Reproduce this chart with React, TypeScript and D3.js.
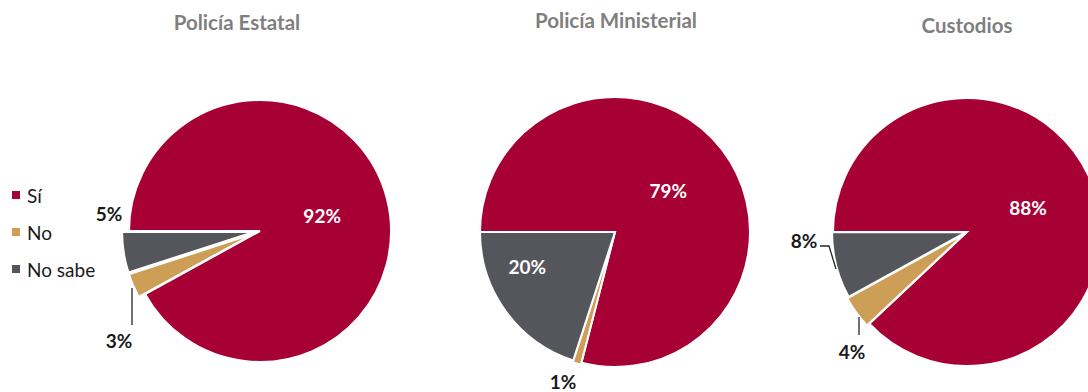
import React from "react";
import * as d3 from "d3";

const categories = ["Sí", "No", "No sabe"];
const groups = ["Policía Estatal", "Policía Ministerial", "Custodios"];
const estatal = [92, 3, 5];
const ministerial = [79, 1, 20];
const custodios = [88, 4, 8];
const seriesValues = [estatal, ministerial, custodios];

const colors = ["#A60034", "#CC9E56", "#55565B"];
const FONT = "Lato, 'Open Sans', sans-serif";

// layout per pie (positions / styling only)
const layouts = [
  {
    cx: 260, cy: 231, r: 131, titleX: 237, titleY: 30,
    explode: [0, 7, 7],
    labels: [
      { inside: true, rf: 0.49 },
      { dx: -141, dy: 109 },
      { dx: -151, dy: -18 },
    ],
    leaders: [null, [[-128, 57], [-128, 94]], null],
  },
  {
    cx: 615, cy: 232, r: 135, titleX: 616, titleY: 28,
    explode: [0, 2, 0],
    labels: [
      { inside: true, rf: 0.5 },
      { dx: -52, dy: 149 },
      { inside: true, rf: 0.7, angOff: 0.25 },
    ],
    leaders: [null, null, null],
  },
  {
    cx: 967, cy: 232, r: 134, titleX: 967, titleY: 33,
    explode: [0, 3, 1],
    labels: [
      { inside: true, rf: 0.49 },
      { dx: -115, dy: 119 },
      { dx: -163, dy: 8 },
    ],
    leaders: [null, [[-108, 85], [-108, 103]], [[-131, 37], [-138, 14], [-147, 14]]],
  },
];

export default function App() {
  const pie = d3
    .pie<number>()
    .sort(null)
    .value((d) => d)
    .startAngle(-Math.PI / 2)
    .endAngle((3 * Math.PI) / 2);

  return (
    <svg
      width={1088}
      height={392}
      style={{ position: "absolute", left: 0, top: 0, background: "#fff" }}
      fontFamily={FONT}
    >
      {seriesValues.map((vals, gi) => {
        const L = layouts[gi];
        const arcs = pie(vals);
        const arc = d3.arc<d3.PieArcDatum<number>>().innerRadius(0).outerRadius(L.r);
        return (
          <g key={gi}>
            <text
              x={L.titleX}
              y={L.titleY}
              textAnchor="middle"
              fontSize={20.5}
              fontWeight={700}
              fill="#7F7F7F"
            >
              {groups[gi]}
            </text>
            <g transform={`translate(${L.cx},${L.cy})`}>
              {arcs.map((a, i) => {
                const mid = (a.startAngle + a.endAngle) / 2;
                const ex = L.explode[i];
                const tx = Math.sin(mid) * ex;
                const ty = -Math.cos(mid) * ex;
                return (
                  <path
                    key={i}
                    d={arc(a) || ""}
                    transform={`translate(${tx},${ty})`}
                    fill={colors[i]}
                    stroke="#fff"
                    strokeWidth={2}
                    strokeLinejoin="miter"
                  />
                );
              })}
              {L.leaders.map((pts, i) =>
                pts ? (
                  <polyline
                    key={"l" + i}
                    points={pts.map((p) => p.join(",")).join(" ")}
                    fill="none"
                    stroke="#262626"
                    strokeWidth={1.3}
                  />
                ) : null
              )}
              {arcs.map((a, i) => {
                const lab: any = L.labels[i];
                let x: number, y: number;
                if (lab.inside) {
                  const mid = (a.startAngle + a.endAngle) / 2 + (lab.angOff || 0);
                  x = Math.sin(mid) * L.r * lab.rf;
                  y = -Math.cos(mid) * L.r * lab.rf;
                } else {
                  x = lab.dx;
                  y = lab.dy;
                }
                return (
                  <text
                    key={"t" + i}
                    x={x}
                    y={y}
                    textAnchor="middle"
                    dominantBaseline="central"
                    fontSize={19}
                    fontWeight={700}
                    fill={lab.inside ? "#fff" : "#1a1a1a"}
                  >
                    {`${vals[i]}%`}
                  </text>
                );
              })}
            </g>
          </g>
        );
      })}
      <g>
        {categories.map((c, i) => (
          <g key={c} transform={`translate(12,${191 + i * 37})`}>
            <rect width={8} height={8} fill={colors[i]} />
            <text x={15} y={4} dominantBaseline="central" fontSize={19} fill="#1a1a1a">
              {c}
            </text>
          </g>
        ))}
      </g>
    </svg>
  );
}
